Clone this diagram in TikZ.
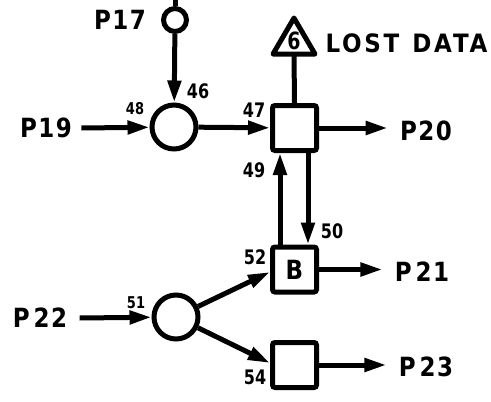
\documentclass[tikz,border=0pt]{standalone}
\usepackage{graphicx}
\usepackage{fontspec}
\setmainfont{DejaVu Sans}
\newfontfamily\lblfont[LetterSpace=6]{DejaVu Sans}
\newfontfamily\widefont[LetterSpace=12]{DejaVu Sans}
\usetikzlibrary{arrows.meta,calc}
\newcommand\bigtxt[1]{\scalebox{1}[1.15]{\lblfont\bfseries\fontsize{23}{23}\selectfont #1}}
\newcommand\widetxt[1]{\scalebox{1}[1.1]{\widefont\bfseries\fontsize{23}{23}\selectfont #1}}
\newcommand\smalltxt[1]{\scalebox{1}[1.25]{\bfseries\fontsize{16}{16}\selectfont #1}}
\newcommand\tinytxt[1]{\scalebox{1}[1.25]{\bfseries\fontsize{13}{13}\selectfont #1}}
\begin{document}
\begin{tikzpicture}[x=1pt,y=-1pt,
  line width=5pt,
  arr/.style={-{Triangle[length=22pt,width=13pt]}},
  bigc/.style={circle,draw,minimum size=44pt,inner sep=0pt},
  smallc/.style={circle,draw,minimum size=23pt,inner sep=0pt},
  boxn/.style={rectangle,draw,rounded corners=2.5pt,minimum width=44pt,minimum height=45pt,inner sep=0pt},
  lbl/.style={inner sep=0pt}]
\useasboundingbox (0,0) rectangle (491,402);
% nodes
\node[smallc] (c0) at (175,20) {};
\node[bigc] (c1) at (174,127) {};
\node[bigc] (c2) at (176,317) {};
\node[boxn] (b1) at (294.5,128) {};
\node[boxn] (b2) at (294.5,269.5) {\bigtxt{B}};
\node[boxn] (b3) at (294.5,365) {};
% texts
\node[lbl] (p17) at (120,20) {\bigtxt{P17}};
\node[lbl] (p19) at (46,128) {\bigtxt{P19}};
\node[lbl] (p20) at (426,131) {\bigtxt{P20}};
\node[lbl] (p21) at (422,272) {\bigtxt{P\,21}};
\node[lbl] (p22) at (40,318) {\bigtxt{P\,22}};
\node[lbl] (p23) at (426,367) {\bigtxt{P\,23}};
\node[lbl,anchor=west] (lost) at (323,43) {\widetxt{LOST\hspace{13pt}DATA}};
% labels
\node[lbl] (l46) at (198,91) {\smalltxt{46}};
\node[lbl] (l48) at (135,109) {\tinytxt{48}};
\node[lbl] (l47) at (254,110) {\smalltxt{47}};
\node[lbl] (l49) at (254,170) {\smalltxt{49}};
\node[lbl] (l50) at (332,231) {\smalltxt{50}};
\node[lbl] (l52) at (255,257) {\smalltxt{52}};
\node[lbl] (l51) at (136,303) {\tinytxt{51}};
\node[lbl] (l54) at (255,377) {\smalltxt{54}};
% triangle
\coordinate (tbase) at (294,54);
\draw[line join=round] (273,54) -- (294,18) -- (315,54) -- cycle;
\node[lbl] (six) at (294,41) {\scalebox{1}[1.25]{\bfseries\fontsize{19}{19}\selectfont 6}};
\draw (b1.north) -- (tbase);
% top input line
\coordinate (top) at (175,0);
\draw (c0.north) -- (top);
% connectors
\draw[arr] (c0) -- (c1);
\draw[arr] ([xshift=7pt]p19.east) -- (c1);
\draw[arr] (c1) -- (b1);
\draw[arr] (b1.east) -- ([xshift=-10pt]p20.west |- b1.east);
\draw[arr] ([xshift=-14.5pt]b2.north) -- ([xshift=-14.5pt]b1.south);
\draw[arr] ([xshift=13.5pt]b1.south) -- ([xshift=13.5pt]b2.north);
\draw[arr] (b2.east) -- ([xshift=-10pt]p21.west |- b2.east);
\draw[arr] ([xshift=10pt]p22.east) -- (c2);
\draw[arr] (c2) -- ([yshift=-2.5pt]b2.west);
\draw[arr] (c2) -- ([yshift=2pt]b3.west);
\draw[arr] (b3.east) -- ([xshift=-10pt]p23.west |- b3.east);
\end{tikzpicture}
\end{document}
